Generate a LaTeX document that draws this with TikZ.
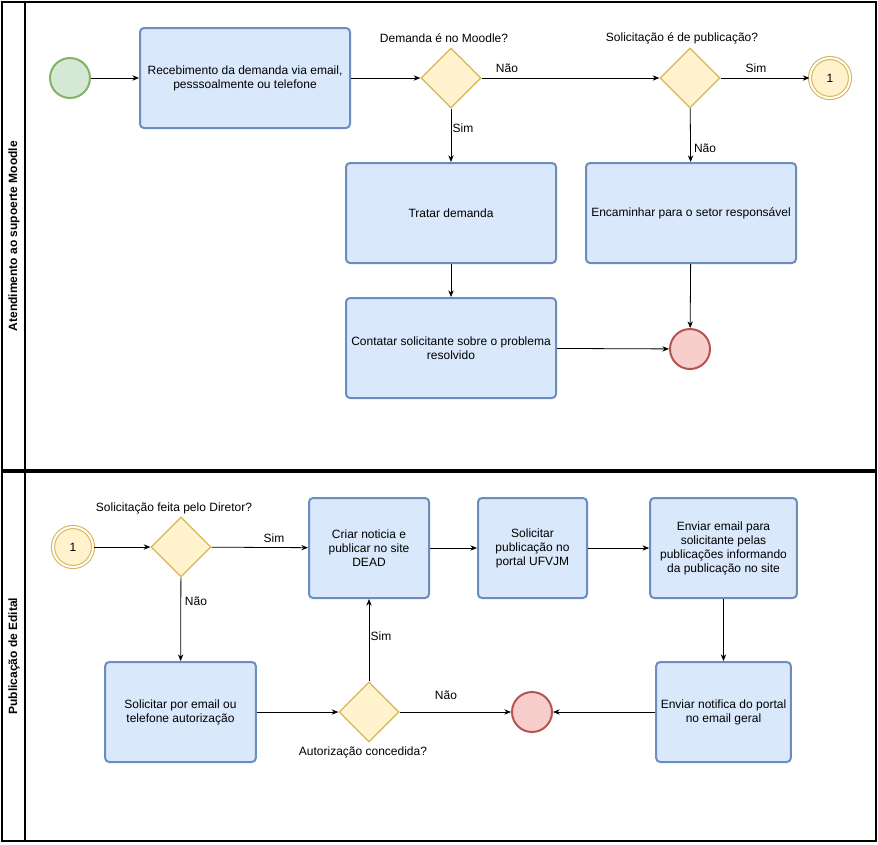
\documentclass[tikz,border=0pt]{standalone}
\usepackage{fontspec}
\setmainfont{Liberation Sans}
\usetikzlibrary{shapes.geometric,arrows.meta}
\definecolor{tf}{HTML}{DAE8FC}\definecolor{ts}{HTML}{6C8EBF}
\definecolor{gf}{HTML}{FFF2CC}\definecolor{gs}{HTML}{D6B656}
\definecolor{sf}{HTML}{D5E8D4}\definecolor{ss}{HTML}{82B366}
\definecolor{ef}{HTML}{F8CECC}\definecolor{es}{HTML}{B85450}
\begin{document}
\begin{tikzpicture}[x=0.75pt,y=-0.75pt,font=\fontsize{9}{10.5}\selectfont,
 task/.style={draw=ts,fill=tf,line width=1.5pt,rounded corners=3pt,align=center},
 gw/.style={diamond,draw=gs,fill=gf,line width=1pt,minimum width=45pt,minimum height=45pt,inner sep=0pt},
 st/.style={circle,draw=ss,fill=sf,line width=1.5pt,minimum size=30pt,inner sep=0pt},
 en/.style={circle,draw=es,fill=ef,line width=1.5pt,minimum size=30pt,inner sep=0pt},
 ie/.style={circle,draw=gs,fill=gf,line width=0.8pt,minimum size=30pt,inner sep=0pt,double=white,double distance=1.5pt},
 ar/.style={-{Stealth[length=5pt,width=4pt]},line width=0.6pt},
 lb/.style={inner sep=1pt}]
\useasboundingbox (0,0) rectangle (878,844);
\fill[white] (0,0) rectangle (878,844);
\draw[line width=1.5pt] (2,2) rectangle (876,470); \draw[line width=1.5pt] (25,2)--(25,470);
\draw[line width=1.5pt] (2,472) rectangle (876,841); \draw[line width=1.5pt] (25,472)--(25,841);
\node[rotate=90,font=\fontsize{9}{10}\selectfont\bfseries] (l1) at (14,236) {Atendimento ao supoerte Moodle};
\node[rotate=90,font=\fontsize{9}{10}\selectfont\bfseries] (l2) at (14,656) {Publicação de Edital};
% pool 1
\node[st] (s) at (70,78) {};
\node[task,minimum width=157.5pt,minimum height=75pt] (t1) at (245,78) {Recebimento da demanda via email,\\pesssoalmente ou telefone};
\node[gw] (g1) at (451,78) {};
\node[lb] (g1l) at (444,38) {Demanda é no Moodle?};
\node[gw] (g2) at (690,78) {};
\node[lb] (g2l) at (682,38) {Solicitação é de publicação?};
\node[ie] (i1) at (830,78) {1};
\node[task,minimum width=157.5pt,minimum height=75pt] (t2) at (451,213) {Tratar demanda};
\node[task,minimum width=157.5pt,minimum height=75pt] (t3) at (691,213) {Encaminhar para o setor responsável};
\node[task,minimum width=157.5pt,minimum height=75pt] (t4) at (451,348) {Contatar solicitante sobre o problema\\resolvido};
\node[en] (e1) at (690,349) {};
\draw[ar] (s)--(t1); \draw[ar] (t1)--(g1); \draw[ar] (g1)--(g2); \draw[ar] (g2)--(i1);
\draw[ar] (g1)--(t2); \draw[ar] (g2)--(t3); \draw[ar] (t2)--(t4); \draw[ar] (t4)--(e1); \draw[ar] (t3)--(e1);
\node[lb] at (507,68) {Não}; \node[lb] at (756,68) {Sim};
\node[lb] at (463,128) {Sim}; \node[lb] at (705,148) {Não};
% pool 2
\node[ie] (i2) at (73,547) {1};
\node[gw] (g3) at (181,547) {};
\node[lb] (g3l) at (174,508) {Solicitação feita pelo Diretor?};
\node[task,minimum width=90pt,minimum height=75pt] (u1) at (369,548) {Criar noticia e\\publicar no site\\DEAD};
\node[task,minimum width=81.75pt,minimum height=75pt] (u2) at (532.5,548) {Solicitar\\publicação no\\portal UFVJM};
\node[task,minimum width=110pt,minimum height=75pt] (u3) at (723.5,548) {Enviar email para\\solicitante pelas\\publicações informando\\da publicação no site};
\node[task,minimum width=113pt,minimum height=75pt] (u4) at (180.5,712) {Solicitar por email ou\\telefone autorização};
\node[gw] (g4) at (369,712) {};
\node[lb] (g4l) at (363,752) {Autorização concedida?};
\node[en] (e2) at (532,712) {};
\node[task,minimum width=101pt,minimum height=75pt] (u5) at (723.5,712) {Enviar notifica do portal\\no email geral};
\draw[ar] (i2)--(g3); \draw[ar] (g3)--(u1); \draw[ar] (u1)--(u2); \draw[ar] (u2)--(u3);
\draw[ar] (g3)--(u4); \draw[ar] (u4)--(g4); \draw[ar] (g4)--(u1); \draw[ar] (g4)--(e2);
\draw[ar] (u3)--(u5); \draw[ar] (u5)--(e2);
\node[lb] at (274,538) {Sim}; \node[lb] at (196,601) {Não};
\node[lb] at (381,636) {Sim}; \node[lb] at (446,695) {Não};
\end{tikzpicture}
\end{document}
